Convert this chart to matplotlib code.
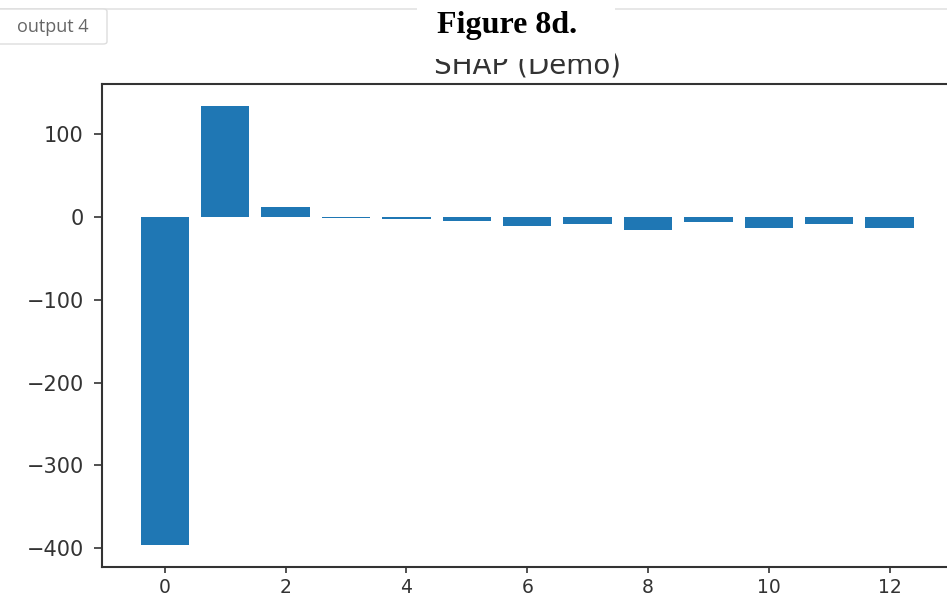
import matplotlib
matplotlib.use("Agg")
import matplotlib.pyplot as plt
from matplotlib.patches import Rectangle, FancyBboxPatch
from matplotlib.lines import Line2D

# SHAP values
features = list(range(13))
shap_vals = [-396, 134.5, 12, -1, -3, -5, -11, -8, -16, -6, -13, -9, -13]

fig = plt.figure(figsize=(9.47, 5.96), dpi=100)
ax = fig.add_axes([0.1077, 0.0487, 0.898, 0.811])

ax.bar(features, shap_vals, width=0.8, color="#1f77b4")
ax.set_title("SHAP (Demo)", fontsize=20, color="#333333", pad=7)
ax.tick_params(axis="y", labelsize=15, length=6, width=1.2, pad=7, colors="#333333")
ax.tick_params(axis="x", labelsize=13.5, length=4.5, width=1.2, pad=3.5, colors="#333333")
for sp in ax.spines.values():
    sp.set_linewidth(1.5)
    sp.set_color("#333333")

# page decorations around the plot (notebook screenshot look)
fig.add_artist(Line2D([0, 1], [1 - 9 / 596, 1 - 9 / 596], transform=fig.transFigure,
                      color="#e3e3e3", lw=1.2, zorder=4))
fig.patches.append(Rectangle((417 / 947, 1 - 59 / 596), 198 / 947, 59 / 596,
                             transform=fig.transFigure, facecolor="white",
                             edgecolor="none", zorder=5))
fig.text(507 / 947, 1 - 25 / 596, "Figure 8d.", family="Liberation Serif",
         weight="bold", fontsize=23, ha="center", va="center", zorder=6)
fig.patches.append(FancyBboxPatch((-5 / 947, 1 - 44 / 596), 112 / 947, 35 / 596,
                                  boxstyle="round,pad=0,rounding_size=0.004",
                                  transform=fig.transFigure, facecolor="white",
                                  edgecolor="#dddddd", lw=1, zorder=5))
fig.text(53 / 947, 1 - 27 / 596, "output 4", family="Open Sans", fontsize=13,
         color="#666666", ha="center", va="center", zorder=6)

fig.savefig("out.png", dpi=100)
